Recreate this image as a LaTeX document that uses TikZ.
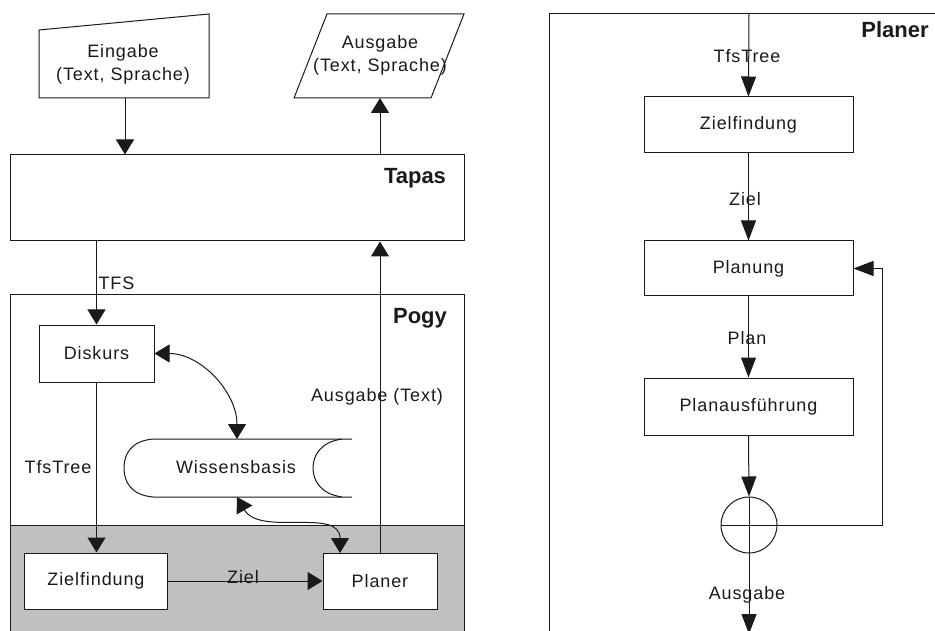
\documentclass[tikz,border=0pt]{standalone}
\usepackage{fontspec}
\setmainfont[LetterSpace=5]{Liberation Sans}
\newfontfamily\headfont{Liberation Sans}
\usetikzlibrary{arrows.meta}
\definecolor{shade}{HTML}{C0C0C0}
\definecolor{ink}{HTML}{1A1A1A}
\begin{document}
\begin{tikzpicture}[x=1pt,y=-1pt,
  line width=1pt, draw=ink, text=ink,
  font=\fontsize{18}{23}\selectfont,
  box/.style={draw, fill=white, rectangle, inner sep=0pt},
  title/.style={font=\headfont\fontsize{22}{26}\selectfont\bfseries, inner sep=0pt},
  lbl/.style={inner sep=0pt},
  arrL/.style={-{Triangle[width=18pt,length=15pt]}},
  arrLL/.style={{Triangle[width=18pt,length=15pt]}-{Triangle[width=18pt,length=15pt]}},
  arrR/.style={-{Triangle[width=15pt,length=20pt]}}]
\useasboundingbox (0,0) rectangle (935,631);
\clip (0,0) rectangle (935,631);

% ---------- left column: overall system ----------
% Eingabe (manual input shape)
\draw[fill=white] (39,30) -- (209,14) -- (209,98) -- (39,98) -- cycle;
\node[lbl, align=center] (ein) at (123,64.5) {Eingabe\\(Text, Sprache)};
\coordinate (einB) at (125,98);

% Ausgabe (parallelogram)
\draw[fill=white] (327,14) -- (464,14) -- (431,98) -- (294,98) -- cycle;
\node[lbl, align=center] (aus) at (380,55.5) {Ausgabe\\(Text, Sprache)};
\coordinate (ausB) at (380,98);

% Tapas
\node[box, minimum width=454pt, minimum height=86pt] (tapas) at (237,198) {};
\node[title] (tapasT) at (415,178) {Tapas};

% Pogy frame with shaded lower part
\node[box, minimum width=454pt, minimum height=360pt] (pogy) at (237,475) {};
\draw[fill=shade] (10,525) rectangle (464,660);
\node[title] (pogyT) at (420,318) {Pogy};

% Wissensbasis (stored data shape)
\draw[fill=white] (352,439) -- (153,439)
  .. controls (131,441) and (124,454) .. (124,468)
  .. controls (124,482) and (131,495) .. (153,497) -- (352,497);
\draw (342,439) .. controls (321,442) and (313,455) .. (313,468)
  .. controls (313,481) and (321,494) .. (342,497);
\node[lbl] (wb) at (236,467) {Wissensbasis};
\coordinate (wbTop) at (237,439);
\coordinate (wbBot) at (237,497);

% boxes
\node[box, minimum width=115pt, minimum height=57pt] (disk) at (96.5,353.5) {Diskurs};
\node[box, minimum width=143pt, minimum height=56pt] (zfL) at (96,581) {Zielfindung};
\node[box, minimum width=114pt, minimum height=56pt] (plL) at (380,581) {Planer};
\coordinate (plTop) at (340,553);

% connectors
\draw[arrL] (einB) -- (einB |- tapas.north);
\draw[arrL] (tapas.north -| ausB) -- (ausB);
\draw[arrL] (tapas.south -| disk.north) -- (disk.north);
\draw[arrL] (plL.north) -- (plL.north |- tapas.south);
\draw[arrL] (disk.south) -- (disk.south |- zfL.north);
\draw[arrL] (zfL.east) -- (plL.west);
\draw[arrLL] (disk.east) to[out=0, in=90] (wbTop);
\draw[arrLL] (wbBot) to[out=-60, in=90] (plTop);

% labels
\node[lbl, anchor=west] (tfs) at (98,283) {TFS};
\node[lbl] (tfsTreeL) at (58,467) {TfsTree};
\node[lbl] (zielL) at (243,577) {Ziel};
\node[lbl] (ausText) at (377,397) {Ausgabe (Text)};

% ---------- right column: Planer detail ----------
\draw (549,14) rectangle (960,660);
\node[title] (planerT) at (895,30) {Planer};
\coordinate (inTop) at (749,14);

\node[box, minimum width=209pt, minimum height=56pt] (zfR) at (748.5,125) {Zielfindung};
\node[box, minimum width=209pt, minimum height=55pt] (plan) at (748.5,268.5) {Planung};
\node[box, minimum width=209pt, minimum height=57pt] (pa) at (748.5,406.5) {Planausführung};
\node[draw, circle, minimum size=56pt, inner sep=0pt] (circ) at (749,525) {};
\coordinate (loop) at (882,525);
\coordinate (outB) at (749,634);

\draw[arrR] (inTop) -- (zfR.north);
\draw[arrR] (zfR.south) -- (plan.north);
\draw[arrR] (plan.south) -- (pa.north);
\draw[arrR] (pa.south) -- (circ.north);
\draw[arrR] (circ.north) -- (outB);
\draw[arrR] (circ.west) -- (loop) |- (plan.east);

\node[lbl] (tfsTreeR) at (747,56) {TfsTree};
\node[lbl] (zielR) at (745,199) {Ziel};
\node[lbl] (planL) at (747,338) {Plan};
\node[lbl] (ausR) at (747,595) {Ausgabe};
\end{tikzpicture}
\end{document}
